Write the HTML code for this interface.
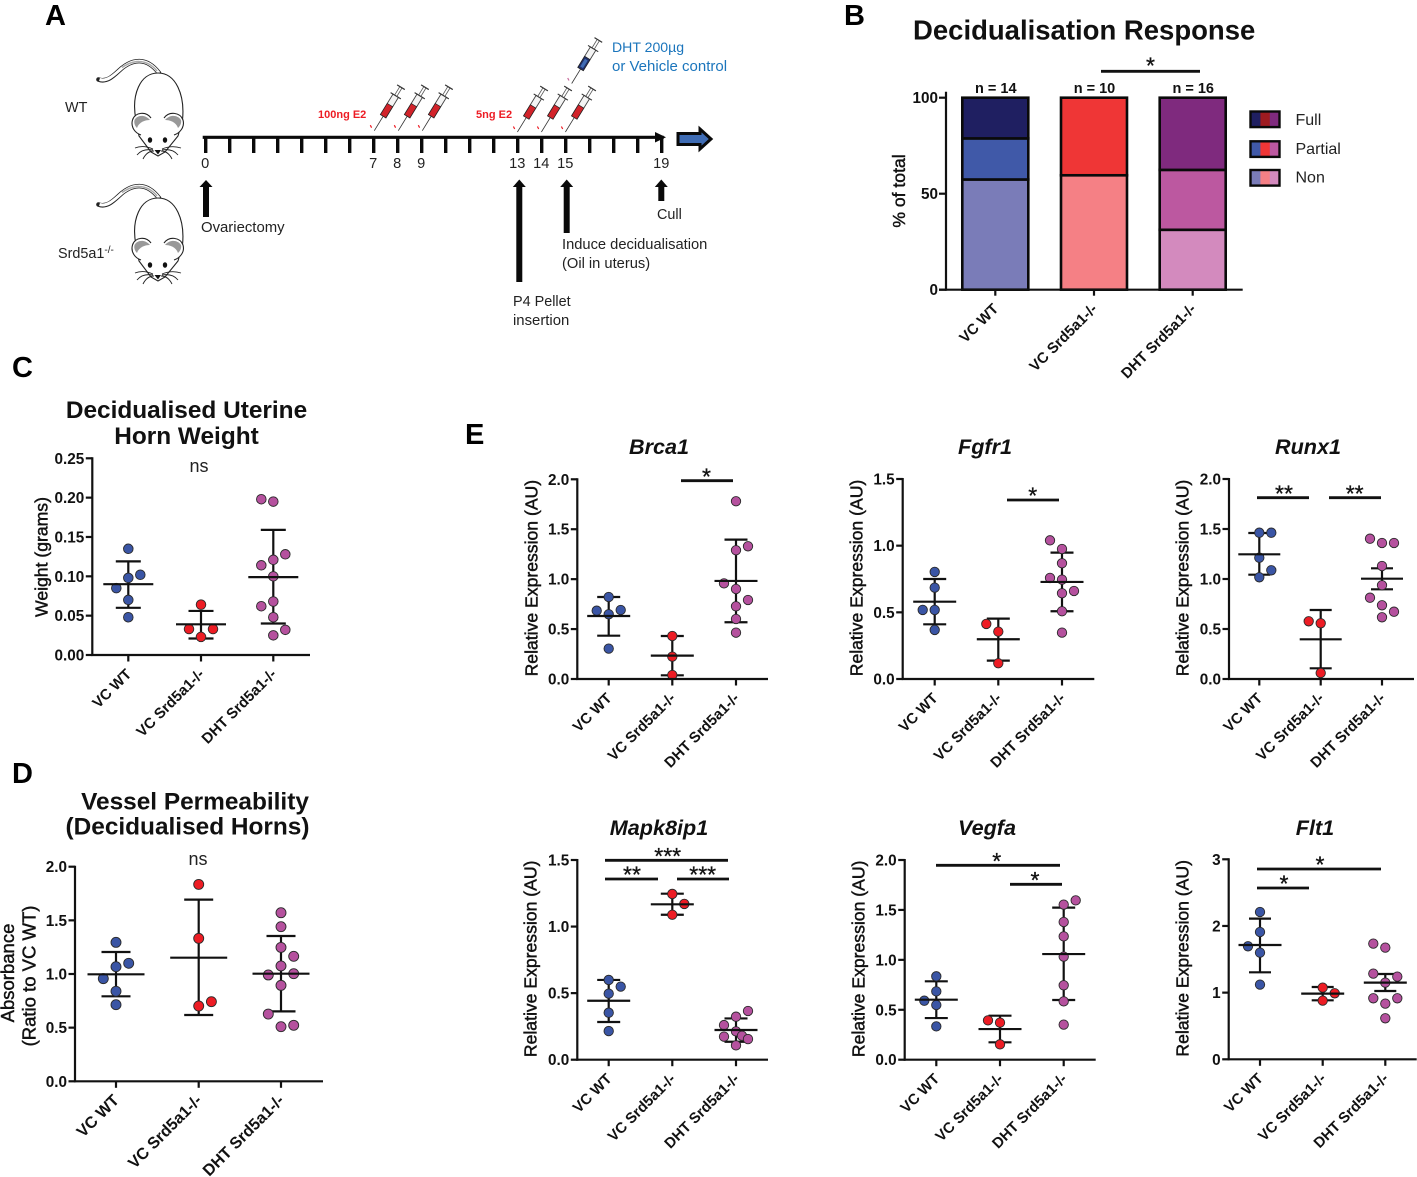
<!DOCTYPE html>
<html lang="en">
<head>
<meta charset="utf-8">
<title>Decidualisation figure</title>
<style>
html,body{margin:0;padding:0;background:#fff;}
svg{display:block;font-family:"Liberation Sans",sans-serif;}
.panel{font-size:29px;font-weight:bold;fill:#000;}
.note{font-size:14.4px;fill:#222;}
.title{font-size:24.4px;font-weight:bold;fill:#111;text-anchor:middle;}
.gene{font-size:21.6px;font-weight:bold;font-style:italic;fill:#111;text-anchor:middle;}
.tick{font-size:15.3px;font-weight:bold;fill:#111;text-anchor:end;}
.cat{font-size:14.9px;font-weight:bold;fill:#111;text-anchor:end;}
.ylab{font-size:17.6px;fill:#111;stroke:#111;stroke-width:.45px;text-anchor:middle;}
.ylab2{font-size:18.5px;fill:#111;stroke:#111;stroke-width:.45px;text-anchor:middle;}
.ns{font-size:18px;fill:#222;text-anchor:middle;}
.star{font-size:23px;fill:#111;stroke:#111;stroke-width:.3px;text-anchor:middle;}
.leg{font-size:16px;fill:#222;}
.count{font-size:14.5px;font-weight:bold;fill:#111;text-anchor:middle;}
</style>
</head>
<body>
<svg id="fig" xmlns="http://www.w3.org/2000/svg" width="1417" height="1177" viewBox="0 0 1417 1177">
<defs>
<g id="mouse-shape">
<path d="M98.5 79.5C108 83 115 74 122 68C132 60 146 56 159 73" fill="none" stroke="#222" stroke-width="4.6" stroke-linecap="round"/>
<path d="M99.5 79.5C108 82 115 74 122 68C132 60 146 56 159 73" fill="none" stroke="#fff" stroke-width="3"/>
<path d="M122 67.5C132 60.5 146 57.5 157 71" fill="none" stroke="#aaa" stroke-width="1.5"/>
<path d="M136 120C131 95 140 73 158 73C176 73 185 95 182.5 120L178 136L165 152L158 156L151 152L139 136Z" fill="#fff" stroke="#222" stroke-width="1.1"/>
<path d="M151 118C146 111 135 112 132.5 120C130.5 127 135 133 141 135" fill="#fff" stroke="#222" stroke-width="1.1"/>
<path d="M150 120C145 114 137 115 134.5 120C133.5 124 136 127 137 128C139 122 145 120 150 120Z" fill="#999"/>
<path d="M164 118C169 111 180 112 183 120C185 127 180 133 174 135" fill="#fff" stroke="#222" stroke-width="1.1"/>
<path d="M165 120C170 114 178 115 181 120C182 124 179 127 178 128C176 122 170 120 165 120Z" fill="#999"/>
<ellipse cx="150" cy="140" rx="2.2" ry="2.8" fill="#111"/>
<ellipse cx="165" cy="140" rx="2.2" ry="2.8" fill="#111"/>
<path d="M154.5 150H161L158 154.5Z" fill="#111"/>
<path d="M153 149C146 146 140 146 135 148M153 150C147 149 141 150 137 155M154 151C150 151 146 153 143 159M162 149C169 146 175 146 181 148M162 150C168 149 174 150 178 155M161 151C165 151 169 153 172 159" fill="none" stroke="#222" stroke-width=".9"/>
</g>
</defs>

<g>
<text class="panel" x="45" y="25">A</text>
<use href="#mouse-shape"/>
<use href="#mouse-shape" y="125"/>
<text class="note" x="65" y="112">WT</text>
<text class="note" x="58" y="258">Srd5a1<tspan dy="-5" font-size="10">-/-</tspan></text>
<g id="timeline"></g>
<g id="syringes"></g>
<text x="318" y="118" font-size="11" font-weight="bold" fill="#ed1c24">100ng E2</text>
<text x="476" y="118" font-size="11" font-weight="bold" fill="#ed1c24">5ng E2</text>
<text x="612" y="52" font-size="14.1" fill="#1b75bc">DHT 200µg</text>
<text x="612" y="71" font-size="15" fill="#1b75bc">or Vehicle control</text>
<polygon points="678,133.5 700,133.5 700,129 711,139 700,149 700,144.5 678,144.5" fill="#3f6cb4" stroke="#0a0a0a" stroke-width="3"/>
<polygon id="arrow-ovx" points="203,217 209,217 209,187 212.5,187 206,180 199.5,187 203,187" fill="#0a0a0a"/>
<polygon points="516.3,282 522.3,282 522.3,187 525.8,187 519.3,179.5 512.8,187 516.3,187" fill="#0a0a0a"/>
<polygon points="563.7,233 569.7,233 569.7,187 573.2,187 566.7,179.5 560.2,187 563.7,187" fill="#0a0a0a"/>
<polygon points="658.3,201 664.3,201 664.3,187 667.8,187 661.3,179.5 654.8,187 658.3,187" fill="#0a0a0a"/>
<text class="note" x="201" y="232" style="font-size:14.9px">Ovariectomy</text>
<text class="note" x="562" y="249" style="font-size:14.7px">Induce decidualisation</text>
<text class="note" x="562" y="268" style="font-size:14.7px">(Oil in uterus)</text>
<text class="note" x="513" y="306">P4 Pellet</text>
<text class="note" x="513" y="325" style="font-size:14.9px">insertion</text>
<text class="note" x="657" y="219">Cull</text>
</g>

<g id="panel-b">
<text class="panel" x="844" y="25">B</text>
<text x="913" y="39.5" font-size="27.5" font-weight="bold" fill="#111">Decidualisation Response</text>
</g>

<g id="panel-c">
<text class="panel" x="12" y="377">C</text>
<text class="title" x="186.5" y="418">Decidualised Uterine</text>
<text class="title" x="186.5" y="444">Horn Weight</text>
<text class="ns" x="199" y="472">ns</text>
<text class="ylab" transform="translate(47.5,557) rotate(-90)">Weight (grams)</text>
</g>

<g id="panel-d">
<text class="panel" x="12" y="783">D</text>
<text class="title" x="195" y="809.5">Vessel Permeability</text>
<text class="title" x="187.5" y="834.5">(Decidualised Horns)</text>
<text class="ns" x="198" y="865">ns</text>
<text class="ylab2" transform="translate(14,973) rotate(-90)">Absorbance</text>
<text class="ylab2" transform="translate(35.5,976) rotate(-90)">(Ratio to VC WT)</text>
</g>

<text class="panel" x="465" y="444">E</text>
<g id="panel-e"></g>
</svg>

<script>
// ---------- shared categories ----------
const groupLabels = ['VC WT', 'VC Srd5a1-/-', 'DHT Srd5a1-/-'];
const groupColors = ['#3a55a5', '#ed1c24', '#b5519e'];

// ---------- timeline ----------
const timelineDayCount = [19];
const timelineDayLabels = [0, 7, 8, 9, 13, 14, 15, 19];
const e2HighDays = [7, 8, 9];
const e2LowDays = [13, 14, 15];

// ---------- panel B stacked bars (percent of total) ----------
const barCategories = ['VC WT', 'VC Srd5a1-/-', 'DHT Srd5a1-/-'];
const barCounts = ['n = 14', 'n = 10', 'n = 16'];
const barTicks = [0, 50, 100];
const barNon = [57.4, 59.6, 31.2];
const barPartial = [21.4, 40.4, 31.2];
const barFull = [21.2, 0, 37.6];
const legendLabels = ['Full', 'Partial', 'Non'];

// ---------- panel C ----------
const weightTicks = ['0.00', '0.05', '0.10', '0.15', '0.20', '0.25'];
const weightWt = [0.135, 0.102, 0.098, 0.085, 0.070, 0.048];
const weightWtSlots = [0, 1, 0, -1, 0, 0];
const weightKo = [0.064, 0.033, 0.033, 0.023];
const weightKoSlots = [0, -1, 1, 0];
const weightDht = [0.198, 0.195, 0.128, 0.121, 0.114, 0.100, 0.068, 0.062, 0.048, 0.032, 0.025];
const weightDhtSlots = [-1, 0, 1, 0, -1, 0, 0, -1, 0, 1, 0];
const weightMeans = [0.090, 0.039, 0.099];
const weightHigh = [0.119, 0.056, 0.159];
const weightLow = [0.060, 0.021, 0.040];

// ---------- panel D ----------
const vesselTicks = ['0.0', '0.5', '1.0', '1.5', '2.0'];
const vesselWt = [1.295, 1.10, 1.068, 0.957, 0.839, 0.714];
const vesselWtSlots = [0, 1, 0, -1, 0, 0];
const vesselKo = [1.835, 1.332, 0.742, 0.702];
const vesselKoSlots = [0, 0, 1, 0];
const vesselDht = [1.571, 1.441, 1.248, 1.165, 1.075, 1.003, 0.991, 0.894, 0.627, 0.522, 0.509];
const vesselDhtSlots = [0, 0, 0, 1, 0, 1, -1, 0, -1, 1, 0];
const vesselMeans = [0.997, 1.152, 1.003];
const vesselHigh = [1.205, 1.693, 1.354];
const vesselLow = [0.792, 0.618, 0.652];

// ---------- panel E: Brca1 ----------
const brca1Ticks = ['0.0', '0.5', '1.0', '1.5', '2.0'];
const brca1Wt = [0.821, 0.691, 0.684, 0.648, 0.304];
const brca1WtSlots = [0, 1, -1, 0, 0];
const brca1Ko = [0.431, 0.224, 0.040];
const brca1KoSlots = [0, 0, 0];
const brca1Dht = [1.78, 1.329, 1.289, 0.958, 0.901, 0.791, 0.728, 0.601, 0.464];
const brca1DhtSlots = [0, 1, 0, -1, 0, 1, 0, 0, 0];
const brca1Means = [0.631, 0.234, 0.982];
const brca1High = [0.821, 0.431, 1.396];
const brca1Low = [0.434, 0.037, 0.568];

// ---------- panel E: Fgfr1 ----------
const fgfr1Ticks = ['0.0', '0.5', '1.0', '1.5'];
const fgfr1Wt = [0.803, 0.685, 0.518, 0.518, 0.368];
const fgfr1WtSlots = [0, 0, 0, -1, 0];
const fgfr1Ko = [0.413, 0.355, 0.118];
const fgfr1KoSlots = [-1, 0, 0];
const fgfr1Dht = [1.04, 0.975, 0.868, 0.758, 0.745, 0.66, 0.643, 0.508, 0.348];
const fgfr1DhtSlots = [-1, 0, 0, -1, 0, 1, 0, 0, 0];
const fgfr1Means = [0.58, 0.298, 0.728];
const fgfr1High = [0.75, 0.453, 0.948];
const fgfr1Low = [0.41, 0.138, 0.508];

// ---------- panel E: Runx1 ----------
const runx1Ticks = ['0.0', '0.5', '1.0', '1.5', '2.0'];
const runx1Wt = [1.463, 1.463, 1.213, 1.087, 1.017];
const runx1WtSlots = [0, 1, 0, 1, 0];
const runx1Ko = [0.577, 0.557, 0.06];
const runx1KoSlots = [-1, 0, 0];
const runx1Dht = [1.403, 1.36, 1.36, 1.13, 0.937, 0.813, 0.737, 0.673, 0.617];
const runx1DhtSlots = [-1, 0, 1, 0, 0, -1, 0, 1, 0];
const runx1Means = [1.247, 0.397, 1.003];
const runx1High = [1.46, 0.69, 1.107];
const runx1Low = [1.043, 0.107, 0.897];

// ---------- panel E: Mapk8ip1 ----------
const mapkTicks = ['0.0', '0.5', '1.0', '1.5'];
const mapkWt = [0.599, 0.549, 0.496, 0.353, 0.215];
const mapkWtSlots = [0, 1, 0, 0, 0];
const mapkKo = [1.245, 1.17, 1.089];
const mapkKoSlots = [0, 1, 0];
const mapkDht = [0.366, 0.323, 0.26, 0.213, 0.18, 0.173, 0.155, 0.108];
const mapkDhtSlots = [1, 0, -1, 0, 0.5, -1, 1, 0];
const mapkMeans = [0.443, 1.167, 0.223];
const mapkHigh = [0.599, 1.247, 0.31];
const mapkLow = [0.283, 1.089, 0.135];

// ---------- panel E: Vegfa ----------
const vegfaTicks = ['0.0', '0.5', '1.0', '1.5', '2.0'];
const vegfaWt = [0.835, 0.684, 0.591, 0.548, 0.334];
const vegfaWtSlots = [0, 0, -1, 0, 0];
const vegfaKo = [0.394, 0.371, 0.154];
const vegfaKoSlots = [-1, 0, 0];
const vegfaDht = [1.596, 1.553, 1.379, 1.235, 1.032, 0.745, 0.584, 0.351];
const vegfaDhtSlots = [1, 0, 0, 0, 0, 0, 0, 0];
const vegfaMeans = [0.601, 0.307, 1.058];
const vegfaHigh = [0.785, 0.441, 1.523];
const vegfaLow = [0.417, 0.174, 0.598];

// ---------- panel E: Flt1 ----------
const flt1Ticks = ['0', '1', '2', '3'];
const flt1Wt = [2.21, 1.91, 1.695, 1.60, 1.12];
const flt1WtSlots = [0, 0, -1, 0, 0];
const flt1Ko = [1.075, 0.99, 0.88];
const flt1KoSlots = [0, 1, 0];
const flt1Dht = [1.735, 1.675, 1.285, 1.24, 1.15, 0.915, 0.915, 0.835, 0.615];
const flt1DhtSlots = [-1, 0, -1, 1, 0, -1, 1, 0, 0];
const flt1Means = [1.715, 0.985, 1.15];
const flt1High = [2.11, 1.085, 1.28];
const flt1Low = [1.305, 0.885, 1.025];

// ---------- drawing ----------
const SVGNS = 'http://www.w3.org/2000/svg';
function mk(tag, attrs, parent, text) {
  const el = document.createElementNS(SVGNS, tag);
  for (const k in attrs) el.setAttribute(k, attrs[k]);
  if (text !== undefined) el.textContent = text;
  parent.appendChild(el);
  return el;
}
function byId(id) { return document.getElementById(id); }
function seg(parent, x1, y1, x2, y2, w, color) {
  return mk('line', {x1: x1, y1: y1, x2: x2, y2: y2, stroke: color || '#111', 'stroke-width': w}, parent);
}

// timeline
(function () {
  const g = byId('timeline');
  const dayX = function (d) { return 205.7 + 24 * d; };
  const axis = seg(g, 202.7, 137.3, dayX(timelineDayCount[0]) + 2, 137.3, 3.2, '#0a0a0a');
  
  
  const head = mk('polygon', {points: '655,132 666,137.3 655,142.5', fill: '#0a0a0a'}, g);
  
  
  for (let d = 0; d <= timelineDayCount[0]; d++) {
    const t = seg(g, dayX(d), 137, dayX(d), 153, 3.4, '#0a0a0a');
    
    
  }
  timelineDayLabels.forEach(function (d) {
    const l = mk('text', {x: dayX(d) - 0.5, y: 168, 'text-anchor': 'middle', class: 'note', style: 'font-size:14.6px'}, g, String(d));
    
    
  });
})();

// syringes
function syringe(tipX, tipY, liquid, accent) {
  const root = byId('syringes');
  const g = mk('g', {transform: 'translate(' + tipX + ',' + tipY + ') rotate(31.5)'}, root);
  
  
  seg(g, 0, 0, 0, -19, 0.8, '#333');
  mk('rect', {x: -3.2, y: -41, width: 6.4, height: 24, fill: '#f4f4f4', stroke: '#444', 'stroke-width': 0.9}, g);
  mk('rect', {x: -3.2, y: -30, width: 6.4, height: 13, fill: liquid, stroke: '#222', 'stroke-width': 0.7}, g);
  if (accent) mk('rect', {x: -1.6, y: -28, width: 3.2, height: 9, fill: accent}, g);
  seg(g, -6, -41, 6, -41, 1.1, '#333');
  seg(g, -1.3, -41, -1.3, -51, 0.8, '#555');
  seg(g, 1.3, -41, 1.3, -51, 0.8, '#555');
  seg(g, -4.5, -51, 4.5, -51, 1.2, '#333');
  seg(root, tipX - 4, tipY - 5.5, tipX - 2.7, tipY - 3, 1.2, accent ? '#c76a9a' : '#ed1c24');
}
e2HighDays.forEach(function (d) { syringe(205.7 + 24 * d + 0.6, 130.7, '#d2232a'); });
e2LowDays.forEach(function (d) { syringe(205.7 + 24 * d - 0.3, 132, '#d2232a'); });
syringe(571.7, 83.5, '#1f2f6b', '#3f6cb4');

// panel B
(function () {
  const root = byId('panel-b');
  const fills = [
    {values: barNon, colors: ['#7a7cb8', '#f58085', '#d38abe'], name: 'non'},
    {values: barPartial, colors: ['#4059a8', '#ef3636', '#bc58a0'], name: 'partial'},
    {values: barFull, colors: ['#1f1f61', '#9e1b20', '#7f2a7e'], name: 'full'}
  ];
  const cols = [995.3, 1094, 1192.7];
  const barW = 66;
  const y0 = 289.7, yTop = 97.7;
  const yScale = function (v) { return y0 - v / barTicks[barTicks.length - 1] * (y0 - yTop); };
  cols.forEach(function (cx, i) {
    let acc = 0;
    fills.forEach(function (f) {
      const v = f.values[i];
      if (v <= 0) return;
      const r = mk('rect', {x: cx - barW / 2, y: yScale(acc + v), width: barW, height: yScale(acc) - yScale(acc + v), fill: f.colors[i], stroke: '#0a0a0a', 'stroke-width': 2.6}, root);
      
      
      acc += v;
    });
    const n = mk('text', {class: 'count', x: cx + 0.5, y: 93}, root, barCounts[i]);
    
    
    const t = seg(root, cx, y0, cx, y0 + 6, 2.2);
    
    
    const lab = mk('text', {class: 'cat', transform: 'translate(' + (cx + 4) + ',' + (y0 + 20) + ') rotate(-45)'}, root, barCategories[i]);
    
    
  });
  const ax = seg(root, 946, 91.7, 946, 290.7, 2.2);
  
  
  const bx = seg(root, 939, y0, 1242.7, y0, 2.2);
  
  
  barTicks.forEach(function (v) {
    const t = seg(root, 939, yScale(v), 946, yScale(v), 2.2);
    
    
    const l = mk('text', {class: 'tick', x: 938, y: yScale(v) + 5.5}, root, String(v));
    
    
  });
  const yl = mk('text', {class: 'ylab', transform: 'translate(905,191) rotate(-90)'}, root, '% of total');
  
  
  const sb = seg(root, 1101, 71.3, 1200, 71.3, 2.8);
  
  
  const st = mk('text', {class: 'star', x: 1150.5, y: 73.5}, root, '*');
  
  
  const legendY = [111.5, 141.3, 170];
  const legendTextY = [125, 153.8, 182.5];
  const legendSets = [fills[2], fills[1], fills[0]];
  legendLabels.forEach(function (lab, i) {
    const g = mk('g', {}, root);
    
    
    legendSets[i].colors.forEach(function (c, k) {
      mk('rect', {x: 1251 + k * 9.4, y: legendY[i], width: 9.6, height: 15.6, fill: c}, g);
    });
    mk('rect', {x: 1250.5, y: legendY[i], width: 29, height: 15.6, fill: 'none', stroke: '#0a0a0a', 'stroke-width': 2.4}, g);
    mk('text', {class: 'leg', x: 1295.5, y: legendTextY[i]}, g, lab);
  });
})();

// scatter plots
function drawScatter(cfg) {
  const root = mk('g', {}, cfg.parent);
  
  
  const maxV = Number(cfg.ticks[cfg.ticks.length - 1]);
  const yScale = function (v) { return cfg.y0 - v / maxV * (cfg.y0 - cfg.yTop); };
  const seriesValues = cfg.values;
  const seriesSlots = cfg.slots;
  cfg.cols.forEach(function (cx, i) {
    const g = mk('g', {}, root);
    
    
    const stem = seg(g, cx, yScale(cfg.high[i]), cx, yScale(cfg.low[i]), 2.2);
    
    
    [cfg.high[i], cfg.low[i]].forEach(function (v) {
      const cap = seg(g, cx - cfg.capW / 2, yScale(v), cx + cfg.capW / 2, yScale(v), 2.2);
      
      
    });
    seriesValues[i].forEach(function (v, k) {
      const p = mk('circle', {cx: cx + seriesSlots[i][k] * cfg.slot, cy: yScale(v), r: cfg.r, fill: groupColors[i], stroke: '#2a2a2a', 'stroke-width': 0.9}, g);
      
      
    });
    const mean = seg(g, cx - cfg.meanW / 2, yScale(cfg.means[i]), cx + cfg.meanW / 2, yScale(cfg.means[i]), 2.2);
    
    
    const t = seg(root, cx, cfg.y0, cx, cfg.y0 + 6.5, 2.2);
    
    
    const lab = mk('text', {class: 'cat', style: 'font-size:' + (cfg.catSize || 14.9) + 'px', transform: 'translate(' + (cx + 4) + ',' + (cfg.y0 + 20) + ') rotate(-45)'}, root, groupLabels[i]);
    
    
  });
  const ya = seg(root, cfg.left, cfg.yTop - 1, cfg.left, cfg.y0 + 1, 2.2);
  
  
  const xa = seg(root, cfg.left - 1, cfg.y0, cfg.right, cfg.y0, 2.2);
  
  
  cfg.ticks.forEach(function (label) {
    const y = yScale(Number(label));
    const t = seg(root, cfg.left - 6.5, y, cfg.left, y, 2.2);
    
    
    const l = mk('text', {class: 'tick', x: cfg.left - 8, y: y + 5.5}, root, label);
    
    
  });
  if (cfg.title) {
    const tt = mk('text', {class: 'gene', x: cfg.title[1], y: cfg.title[2]}, root, cfg.title[0]);
    
    
    const yl = mk('text', {class: 'ylab', transform: 'translate(' + cfg.ylabX + ',' + ((cfg.y0 + cfg.yTop) / 2 - 1) + ') rotate(-90)'}, root, 'Relative Expression (AU)');
    
    
  }
  (cfg.sig || []).forEach(function (s) {
    const b = seg(root, s[0], s[2], s[1], s[2], 2.8);
    
    
    const st = mk('text', {class: 'star', x: s[3], y: s[2] + 3.6}, root, s[4]);
    
    
  });
}

drawScatter({parent: byId('panel-c'), name: 'weight-plot', ticks: weightTicks,
  values: [weightWt, weightKo, weightDht], slots: [weightWtSlots, weightKoSlots, weightDhtSlots],
  means: weightMeans, high: weightHigh, low: weightLow,
  left: 92.3, right: 310, y0: 655, yTop: 458.3, cols: [128.3, 201, 273.3], slot: 12, r: 4.8, meanW: 50, capW: 25});

drawScatter({parent: byId('panel-d'), name: 'vessel-permeability-plot', ticks: vesselTicks, catSize: 16.2,
  values: [vesselWt, vesselKo, vesselDht], slots: [vesselWtSlots, vesselKoSlots, vesselDhtSlots],
  means: vesselMeans, high: vesselHigh, low: vesselLow,
  left: 75, right: 323, y0: 1081.3, yTop: 866.7, cols: [116, 198.7, 281], slot: 12.7, r: 5, meanW: 57, capW: 29});

const panelE = byId('panel-e');
drawScatter({parent: panelE, name: 'brca1-plot', ticks: brca1Ticks, title: ['Brca1', 659, 454], ylabX: 537.5,
  values: [brca1Wt, brca1Ko, brca1Dht], slots: [brca1WtSlots, brca1KoSlots, brca1DhtSlots],
  means: brca1Means, high: brca1High, low: brca1Low,
  left: 577.3, right: 768, y0: 679, yTop: 479.3, cols: [608.7, 672.3, 736], slot: 12, r: 4.7, meanW: 43, capW: 23,
  sig: [[681, 733, 480.7, 706.5, '*']]});
drawScatter({parent: panelE, name: 'fgfr1-plot', ticks: fgfr1Ticks, title: ['Fgfr1', 985, 454], ylabX: 862.5,
  values: [fgfr1Wt, fgfr1Ko, fgfr1Dht], slots: [fgfr1WtSlots, fgfr1KoSlots, fgfr1DhtSlots],
  means: fgfr1Means, high: fgfr1High, low: fgfr1Low,
  left: 902.7, right: 1094.3, y0: 679, yTop: 479, cols: [934.7, 998.3, 1062], slot: 12, r: 4.7, meanW: 43, capW: 23,
  sig: [[1007, 1059, 500, 1032.7, '*']]});
drawScatter({parent: panelE, name: 'runx1-plot', ticks: runx1Ticks, title: ['Runx1', 1308, 454], ylabX: 1188.5,
  values: [runx1Wt, runx1Ko, runx1Dht], slots: [runx1WtSlots, runx1KoSlots, runx1DhtSlots],
  means: runx1Means, high: runx1High, low: runx1Low,
  left: 1229, right: 1414, y0: 679, yTop: 479, cols: [1259.3, 1320.7, 1382], slot: 12, r: 4.7, meanW: 42, capW: 22,
  sig: [[1257, 1309, 497.7, 1284, '**'], [1329, 1381, 497.7, 1354.7, '**']]});
drawScatter({parent: panelE, name: 'mapk8ip1-plot', ticks: mapkTicks, title: ['Mapk8ip1', 659, 835], ylabX: 536.5,
  values: [mapkWt, mapkKo, mapkDht], slots: [mapkWtSlots, mapkKoSlots, mapkDhtSlots],
  means: mapkMeans, high: mapkHigh, low: mapkLow,
  left: 577.3, right: 768, y0: 1059.7, yTop: 860, cols: [608.7, 672.3, 736], slot: 12, r: 4.7, meanW: 43, capW: 23,
  sig: [[605, 728, 860.3, 667.7, '***'], [605, 658, 879, 632, '**'], [677, 729, 879, 702.7, '***']]});
drawScatter({parent: panelE, name: 'vegfa-plot', ticks: vegfaTicks, title: ['Vegfa', 987, 835], ylabX: 864.5,
  values: [vegfaWt, vegfaKo, vegfaDht], slots: [vegfaWtSlots, vegfaKoSlots, vegfaDhtSlots],
  means: vegfaMeans, high: vegfaHigh, low: vegfaLow,
  left: 904.7, right: 1095.7, y0: 1059.7, yTop: 860, cols: [936.3, 1000, 1063.7], slot: 12, r: 4.7, meanW: 43, capW: 23,
  sig: [[936, 1060, 865.3, 996.7, '*'], [1010, 1062, 884.3, 1035, '*']]});
drawScatter({parent: panelE, name: 'flt1-plot', ticks: flt1Ticks, title: ['Flt1', 1315, 835], ylabX: 1188.5,
  values: [flt1Wt, flt1Ko, flt1Dht], slots: [flt1WtSlots, flt1KoSlots, flt1DhtSlots],
  means: flt1Means, high: flt1High, low: flt1Low,
  left: 1228.7, right: 1416.7, y0: 1059.3, yTop: 859.3, cols: [1260, 1322.7, 1385.3], slot: 12, r: 4.7, meanW: 43, capW: 22,
  sig: [[1257, 1381, 869, 1320, '*'], [1257, 1309, 888, 1284, '*']]});
</script>
</body>
</html>
